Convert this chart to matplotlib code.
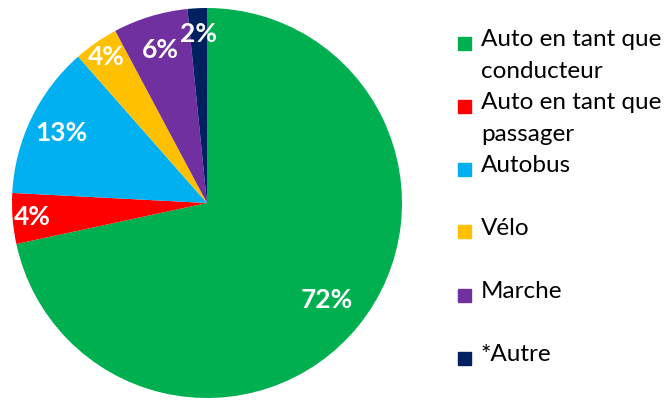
import matplotlib
matplotlib.use("Agg")
from matplotlib import pyplot as plt
from matplotlib.patches import Rectangle
import numpy as np

plt.rcParams['font.family'] = ['Lato', 'DejaVu Sans']

# parts of trips by mode (%)
modes = ["Auto en tant que\nconducteur", "Auto en tant que\npassager", "Autobus",
         "Vélo", "Marche", "*Autre"]
shares = [71.7, 4.2, 12.7, 3.7, 6.2, 1.6]
pct_labels = ["72%", "4%", "13%", "4%", "6%", "2%"]
colors = ["#00B050", "#FF0000", "#00B0F0", "#FFC000", "#7030A0", "#002060"]
label_dist = [0.79, 0.90, 0.83, 0.91, 0.82, 0.87]

fig = plt.figure(figsize=(6.66, 4), dpi=100)
W, H = 666, 400
cx, cy, R = 207, 203, 195
ax = fig.add_axes([(cx - R) / W, (H - cy - R) / H, 2 * R / W, 2 * R / H])

wedges, _ = ax.pie(shares, colors=colors, startangle=90, counterclock=False,
                   radius=1, wedgeprops=dict(linewidth=0))
ax.set_xlim(-1, 1)
ax.set_ylim(-1, 1)
ax.axis('off')

for w, lab, d in zip(wedges, pct_labels, label_dist):
    ang = np.deg2rad((w.theta1 + w.theta2) / 2)
    ax.text(d * np.cos(ang), d * np.sin(ang), lab, ha='center', va='center',
            color='white', fontsize=19, fontweight='bold')

# legend drawn by hand to keep Excel-like fixed spacing
y0 = 43
step = 63
for i, (name, c) in enumerate(zip(modes, colors)):
    yc = y0 + i * step
    fig.patches.append(Rectangle((458 / W, 1 - (yc + 6.5) / H), 13 / W, 13 / H,
                                 transform=fig.transFigure, color=c))
    fig.text(481 / W, 1 - (yc - 14) / H, name, ha='left', va='top',
             fontsize=17.5, color='black', linespacing=1.65)

fig.savefig('out.png', dpi=100)
